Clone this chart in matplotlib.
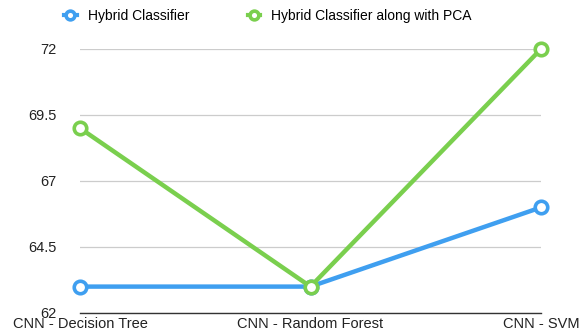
import numpy as np
import matplotlib.pyplot as plt

# data
categories = ['CNN - Decision Tree', 'CNN - Random Forest', 'CNN - SVM']
hybrid = [63.0, 63.0, 66.0]
hybrid_pca = [69.0, 63.0, 72.0]
yticks = [62, 64.5, 67, 69.5, 72]

blue = '#3F9FF0'
green = '#7ACF4E'

plt.rcParams['font.family'] = ['Liberation Sans', 'DejaVu Sans']

fig = plt.figure(figsize=(5.81, 3.32), dpi=100)
ax = fig.add_axes([80 / 581, 1 - 313 / 332, 461 / 581, 264 / 332])

x = np.arange(len(categories))
style = dict(lw=3.2, marker='o', ms=9, mfc='white', mew=2.6, clip_on=False, zorder=3)
ax.plot(x, hybrid, color=blue, label='Hybrid Classifier', **style)
ax.plot(x, hybrid_pca, color=green, label='Hybrid Classifier along with PCA', **style)

ax.set_xlim(0, 2)
ax.set_ylim(62, 72)
ax.set_xticks(x)
ax.set_xticklabels(categories, fontsize=10.5, color='#222222')
ax.set_yticks(yticks)
ax.set_yticklabels([f'{t:g}' for t in yticks], fontsize=10.5, color='#222222')
ax.tick_params(length=0)
ax.tick_params(axis='y', pad=17)
ax.tick_params(axis='x', pad=3)

ax.grid(axis='y', color='#cccccc', lw=0.9)
ax.set_axisbelow(True)
for s in ['top', 'right', 'left']:
    ax.spines[s].set_visible(False)
ax.spines['bottom'].set_color('#333333')
ax.spines['bottom'].set_linewidth(1.0)

leg = fig.legend(loc='center', bbox_to_anchor=(268 / 581, 1 - 16 / 332), ncol=2,
                 frameon=False, fontsize=10, handlelength=0.9, columnspacing=4.2,
                 handletextpad=0.8, markerscale=0.7)
for h in leg.legend_handles:
    h.set_linewidth(3)

fig.savefig('out.png', dpi=100)
